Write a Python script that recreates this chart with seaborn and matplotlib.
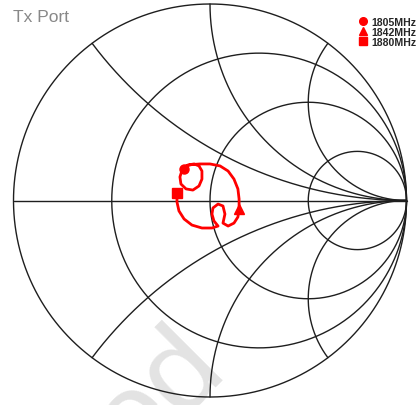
import numpy as np
import matplotlib
matplotlib.use("Agg")
import matplotlib.pyplot as plt
import seaborn as sns
from matplotlib.lines import Line2D

# ---- data -------------------------------------------------------------
title = "Tx Port"
marker_labels = ["1805MHz", "1842MHz", "1880MHz"]
marker_shapes = ["o", "^", "s"]
marker_idx = [0, 21, 39]

resistance_values = [1 / 3, 1.0, 3.0]
reactance_values = [0.5, 1.0, 2.0]

# reflection coefficient trace (real / imaginary parts)
gamma_re = [-0.132, -0.112, -0.081, -0.056, -0.041, -0.041, -0.056, -0.087,
            -0.122, -0.148, -0.153, -0.142, -0.122, -0.092, -0.051, 0.000,
            0.051, 0.092, 0.122, 0.142, 0.148, 0.148, 0.142, 0.122,
            0.092, 0.066, 0.076, 0.066, 0.041, 0.015, 0.010, 0.020,
            0.041, 0.010, -0.041, -0.092, -0.132, -0.158, -0.168, -0.168]
gamma_im = [0.160, 0.181, 0.186, 0.176, 0.150, 0.109, 0.074, 0.053,
            0.059, 0.084, 0.120, 0.155, 0.176, 0.183, 0.186, 0.186,
            0.176, 0.150, 0.109, 0.059, 0.008, -0.043, -0.084, -0.115,
            -0.130, -0.115, -0.069, -0.028, -0.018, -0.038, -0.069, -0.104,
            -0.130, -0.140, -0.140, -0.125, -0.094, -0.053, -0.008, 0.038]

watermark = "ed"

# ---- style ------------------------------------------------------------
sns.set_theme(style="white")
plt.rcParams['font.family'] = ['Liberation Sans', 'DejaVu Sans']

fig = plt.figure(figsize=(4.2, 4.06), dpi=100)
ax = fig.add_axes([0, 0, 1, 1])
R = 196.5
ax.set_xlim(-210 / R, 210 / R)
ax.set_ylim(-204.5 / R, 201.5 / R)
ax.axis('off')

# watermark
ax.text(0.09, -0.86, watermark, rotation=45, rotation_mode='anchor',
        ha='right', va='baseline', fontsize=86, color='#e3e3e3', zorder=0)

grid_kw = dict(color='#1e1e1e', lw=1.0, zorder=2)
t = np.linspace(0, 2 * np.pi, 600)
ax.plot(np.cos(t), np.sin(t), **grid_kw)
for r in resistance_values:
    c = r / (1 + r)
    rad = 1 / (1 + r)
    ax.plot(c + rad * np.cos(t), rad * np.sin(t), **grid_kw)
ax.plot([-1, 1], [0, 0], **grid_kw)
rr = np.concatenate([[0], np.logspace(-3, 4, 800)])
for x in reactance_values:
    for s in (1, -1):
        z = rr + 1j * s * x
        g = (z - 1) / (z + 1)
        ax.plot(g.real, g.imag, **grid_kw)

# trace
sns.lineplot(x=gamma_re, y=gamma_im, sort=False, estimator=None,
             color='#ff0000', lw=2.0, ax=ax, zorder=3)
for idx, m in zip(marker_idx, marker_shapes):
    ax.plot(gamma_re[idx], gamma_im[idx], marker=m, color='#ff0000',
            ms=6.5, ls='none', zorder=4)

handles = [Line2D([], [], marker=m, color='#ff0000', ls='none', ms=5.5)
           for m in marker_shapes]
leg = ax.legend(handles, marker_labels, loc='upper right',
                bbox_to_anchor=(1.01, 0.975), bbox_transform=fig.transFigure,
                frameon=False, prop={'size': 7.6, 'weight': 'bold'},
                handlelength=0.9, handletextpad=0.35, labelspacing=0.02,
                borderpad=0.2)

fig.text(13 / 420, 1 - 17 / 406, title, fontsize=12.5, color='#888888',
         va='center', ha='left')

fig.savefig("out.png", dpi=100)
